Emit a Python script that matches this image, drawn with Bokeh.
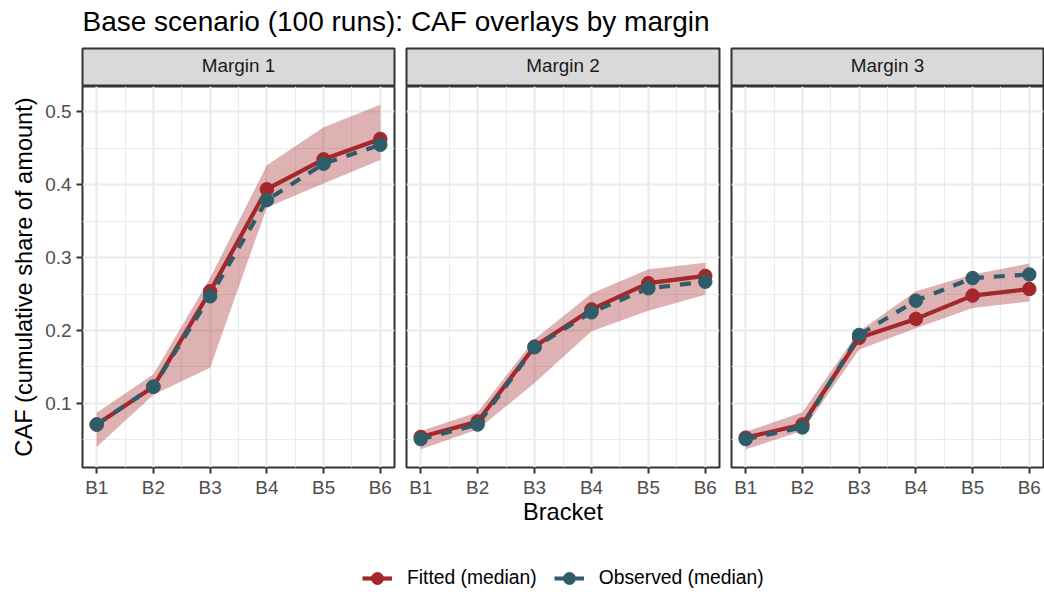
from bokeh.plotting import figure
from bokeh.models import (Range1d, LinearAxis, FixedTicker, Grid, Label, Legend,
                          LegendItem, ColumnDataSource)
from bokeh.layouts import column, row
from bokeh.embed import file_html
from bokeh.resources import INLINE
from bokeh.core.properties import value

# ---------------- data ----------------
title_text = "Base scenario (100 runs): CAF overlays by margin"
brackets = ["B1", "B2", "B3", "B4", "B5", "B6"]
x_pos = [1, 2, 3, 4, 5, 6]
x_minor = [1.5, 2.5, 3.5, 4.5, 5.5]
y_ticks = [0.1, 0.2, 0.3, 0.4, 0.5]
y_labels = ["0.1", "0.2", "0.3", "0.4", "0.5"]
y_minor = [0.05, 0.15, 0.25, 0.35, 0.45]
margins = ["Margin 1", "Margin 2", "Margin 3"]

fitted_m1 = [0.071, 0.123, 0.254, 0.394, 0.435, 0.463]
observed_m1 = [0.071, 0.123, 0.247, 0.379, 0.429, 0.455]
lo_m1 = [0.040, 0.112, 0.149, 0.369, 0.402, 0.434]
hi_m1 = [0.087, 0.140, 0.272, 0.427, 0.479, 0.510]

fitted_m2 = [0.054, 0.075, 0.178, 0.229, 0.265, 0.275]
observed_m2 = [0.051, 0.071, 0.177, 0.225, 0.258, 0.267]
lo_m2 = [0.037, 0.064, 0.128, 0.199, 0.227, 0.249]
hi_m2 = [0.062, 0.088, 0.188, 0.251, 0.284, 0.293]

fitted_m3 = [0.053, 0.071, 0.190, 0.216, 0.248, 0.257]
observed_m3 = [0.051, 0.067, 0.194, 0.241, 0.272, 0.277]
lo_m3 = [0.037, 0.062, 0.174, 0.203, 0.231, 0.240]
hi_m3 = [0.061, 0.088, 0.199, 0.254, 0.277, 0.292]

series_labels = ["Fitted (median)", "Observed (median)"]

# ---------------- style ----------------
FONT = "Liberation Sans"
RED = "#A3272B"
TEAL = "#2E5D69"
BORDER = "#333333"
GRID = "#EBEBEB"
TICK_TXT = "#4D4D4D"
LW = 4.2
PT = 13.5
DASH = "11 10"

panel_data = [
    (fitted_m1, observed_m1, lo_m1, hi_m1),
    (fitted_m2, observed_m2, lo_m2, hi_m2),
    (fitted_m3, observed_m3, lo_m3, hi_m3),
]

# horizontal geometry per column: (fig width, left border, right border)
cols = [(400, 82, 6), (325, 6, 6), (319, 6, 1)]


def bare(width, height, bl, br, bt, bb, xr, yr):
    p = figure(width=width, height=height, x_range=xr, y_range=yr,
               x_axis_type=None, y_axis_type=None, title=None,
               toolbar_location=None, tools="", output_backend="svg",
               min_border_left=bl, min_border_right=br,
               min_border_top=bt, min_border_bottom=bb)
    p.outline_line_color = None
    p.background_fill_color = "white"
    p.border_fill_color = "white"
    return p


# ---------------- title ----------------
title_fig = bare(1044, 47, 0, 0, 0, 0, Range1d(0, 1044), Range1d(47, 0))
title_fig.add_layout(Label(x=82, y=21, text=title_text, text_font=FONT,
                           text_font_size="28px", text_color="black",
                           text_baseline="alphabetic", text_align="left"))

columns = []
for k, (w, bl, br) in enumerate(cols):
    fitted, observed, lo, hi = panel_data[k]

    # strip
    s = bare(w, 39, bl, br, 1, 1, Range1d(0, 1), Range1d(0, 1))
    s.background_fill_color = "#D9D9D9"
    s.outline_line_color = BORDER
    s.outline_line_width = 2
    s.text(x=[0.5], y=[0.55], text=[margins[k]], text_align="center",
           text_baseline="middle", text_font=value(FONT),
           text_font_size="18.9px", text_color="#1A1A1A")

    # panel
    p = bare(w, 454, bl, br, 0, 73, Range1d(0.75, 6.25), Range1d(0.012, 0.535))
    p.outline_line_color = BORDER
    p.outline_line_width = 2

    gx = Grid(dimension=0, ticker=FixedTicker(ticks=x_pos, minor_ticks=x_minor),
              grid_line_color=GRID, grid_line_width=2.2,
              minor_grid_line_color=GRID, minor_grid_line_width=1.1)
    gy = Grid(dimension=1, ticker=FixedTicker(ticks=y_ticks, minor_ticks=y_minor),
              grid_line_color=GRID, grid_line_width=2.2,
              minor_grid_line_color=GRID, minor_grid_line_width=1.1)
    p.add_layout(gx, "center")
    p.add_layout(gy, "center")

    xa = LinearAxis(ticker=FixedTicker(ticks=x_pos),
                    major_label_overrides={xv: b for xv, b in zip(x_pos, brackets)},
                    axis_line_color=None, major_tick_line_color=BORDER,
                    major_tick_line_width=2, major_tick_out=6, major_tick_in=0,
                    minor_tick_line_color=None, major_label_standoff=3,
                    major_label_text_font=FONT, major_label_text_font_size="18.9px",
                    major_label_text_color=TICK_TXT)
    if k == 1:
        xa.axis_label = "Bracket"
        xa.axis_label_text_font = FONT
        xa.axis_label_text_font_size = "23.6px"
        xa.axis_label_text_font_style = "normal"
        xa.axis_label_text_color = "black"
        xa.axis_label_standoff = -2
    p.add_layout(xa, "below")

    if k == 0:
        ya = LinearAxis(ticker=FixedTicker(ticks=y_ticks),
                        major_label_overrides={yv: t for yv, t in zip(y_ticks, y_labels)},
                        axis_line_color=None, major_tick_line_color=BORDER,
                        major_tick_line_width=2, major_tick_out=6, major_tick_in=0,
                        minor_tick_line_color=None, major_label_standoff=5,
                        major_label_text_font=FONT, major_label_text_font_size="18.9px",
                        major_label_text_color=TICK_TXT,
                        axis_label="CAF (cumulative share of amount)",
                        axis_label_text_font=FONT, axis_label_text_font_size="23.6px",
                        axis_label_text_font_style="normal",
                        axis_label_text_color="black", axis_label_standoff=5)
        p.add_layout(ya, "left")

    src = ColumnDataSource(dict(x=x_pos, fitted=fitted, observed=observed, lo=lo, hi=hi))
    p.varea(x="x", y1="lo", y2="hi", source=src, fill_color=RED, fill_alpha=0.36)
    p.line(x="x", y="fitted", source=src, line_color=RED, line_width=LW)
    p.line(x="x", y="observed", source=src, line_color=TEAL, line_width=LW,
           line_dash=DASH)
    p.scatter(x="x", y="fitted", source=src, size=PT, fill_color=RED, line_color=RED)
    p.scatter(x="x", y="observed", source=src, size=PT, fill_color=TEAL, line_color=TEAL)

    columns.append(column(s, p, spacing=0))

# ---------------- legend ----------------
# legend-only strip: the key renderers reuse the series but the view range is empty of data
leg = bare(1044, 56, 0, 0, 0, 0, Range1d(-20, -10), Range1d(-20, -10))
lsrc = ColumnDataSource(dict(x=x_pos, fitted=fitted_m1, observed=observed_m1))
lr1 = leg.line(x="x", y="fitted", source=lsrc, line_color=RED, line_width=LW)
sr1 = leg.scatter(x="x", y="fitted", source=lsrc, size=PT, fill_color=RED, line_color=RED)
lr2 = leg.line(x="x", y="observed", source=lsrc, line_color=TEAL, line_width=LW,
               line_dash=DASH)
sr2 = leg.scatter(x="x", y="observed", source=lsrc, size=PT, fill_color=TEAL,
                  line_color=TEAL)
legend = Legend(items=[LegendItem(label=series_labels[0], renderers=[lr1, sr1]),
                       LegendItem(label=series_labels[1], renderers=[lr2, sr2])],
                location=(362, 2), orientation="horizontal",
                glyph_width=30, glyph_height=32, label_standoff=15, spacing=17,
                padding=0, margin=0, border_line_color=None,
                background_fill_alpha=0, label_text_font=FONT,
                label_text_font_size="19.3px", label_text_color="black")
leg.add_layout(legend, "center")

layout = column(title_fig, row(*columns, spacing=0), leg, spacing=0)

with open("out.html", "w") as f:
    f.write(file_html(layout, INLINE))
